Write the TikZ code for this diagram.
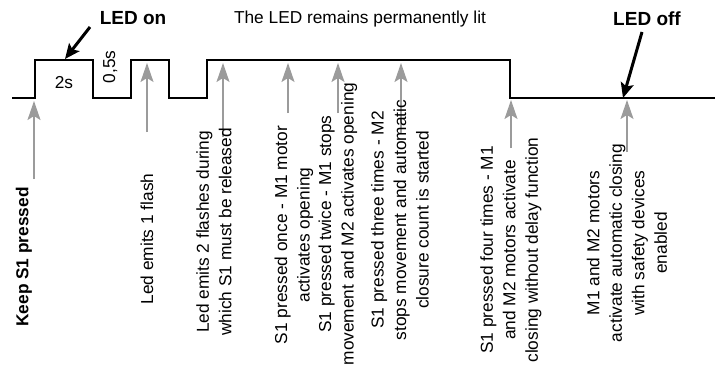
\documentclass[tikz,border=0pt]{standalone}
\usepackage{fontspec}
\setmainfont{Liberation Sans}
\usetikzlibrary{arrows.meta}
\usetikzlibrary{positioning}

\definecolor{evgray}{RGB}{155,155,155}

\begin{document}
\begin{tikzpicture}[x=1pt,y=-1pt,
	signal/.style={line width=2.6pt,line join=miter},
	event/.style={draw=evgray,line width=1.4pt,-{Stealth[length=19pt,width=13pt,inset=4pt]}},
	callout/.style={line width=3pt,-{Stealth[length=15pt,width=13pt,inset=3pt]}},
	note/.style={rotate=90,align=center,inner sep=0pt,font=\fontsize{17.3}{22.5}\selectfont},
	plain/.style={inner sep=0pt,font=\fontsize{17.3}{22.5}\selectfont},
	title/.style={inner sep=0pt,font=\bfseries\fontsize{19}{22}\selectfont}]
	\useasboundingbox (0,0) rectangle (722,369);
	
	% LED signal
	\coordinate (s0) at (12,98);
	\coordinate (s1) at (35,98);
	\coordinate (s2) at (35,60);
	\coordinate (s3) at (93,60);
	\coordinate (s4) at (93,98);
	\coordinate (s5) at (131,98);
	\coordinate (s6) at (131,60);
	\coordinate (s7) at (169,60);
	\coordinate (s8) at (169,98);
	\coordinate (s9) at (207,98);
	\coordinate (s10) at (207,60);
	\coordinate (s11) at (510,60);
	\coordinate (s12) at (510,98);
	\coordinate (s13) at (715,98);
	\draw[signal] (s0) -- (s1) -- (s2) -- (s3) -- (s4) -- (s5) -- (s6) -- (s7)
		-- (s8) -- (s9) -- (s10) -- (s11) -- (s12) -- (s13);
	
	% top labels
	\node[title,anchor=base] (ledon) at (133,25) {LED on};
	\node[title,anchor=base] (ledoff) at (647,26) {LED off};
	\node[plain,anchor=base] (lit) at (360,24) {The LED remains permanently lit};
	\node[plain,anchor=base] (two) at (64,88) {2s};
	\node[note,anchor=base] (half) at (115,67) {0,5s};
	
	\coordinate (onTail) at (90,27);
	\coordinate (onTip) at (65,59);
	\coordinate (offTail) at (642,32);
	\coordinate (offTip) at (623,98);
	\draw[callout] (onTail) -- (onTip);
	\draw[callout] (offTail) -- (offTip);
	
	% events
	\foreach \n/\x/\tip/\tail in {a/34/101/179, b/147/63/132, c/223/63/137, d/288/63/113,
		e/338/63/113, f/401/63/133, g/511/100/148, h/627/100/152}{
		\coordinate (tip\n) at (\x,\tip);
		\coordinate (tail\n) at (\x,\tail);
		\draw[event] (tail\n) -- (tip\n);
	}
	
	% descriptions
	\node[note,font=\bfseries\fontsize{17.3}{22.5}\selectfont] (keep) at (24,257) {Keep S1 pressed};
	\node[note] (flash) at (147,239) {Led emits 1 flash};
	\node[note] (twoflash) at (214,232) {Led emits 2 flashes during\\which S1 must be released};
	\node[note] (once) at (294,235) {S1 pressed once - M1 motor\\activates opening};
	\node[note] (twice) at (338,224) {S1 pressed twice - M1 stops\\movement and M2 activates opening};
	\node[note] (three) at (400,220) {S1 pressed three times - M2\\stops movement and automatic\\closure count is started};
	\node[note] (four) at (511,250) {S1 pressed four times - M1\\and M2 motors activate\\closing without delay function};
	\node[note] (auto) at (627,243) {M1 and M2 motors\\activate automatic closing\\with safety devices\\enabled};
\end{tikzpicture}
\end{document}
